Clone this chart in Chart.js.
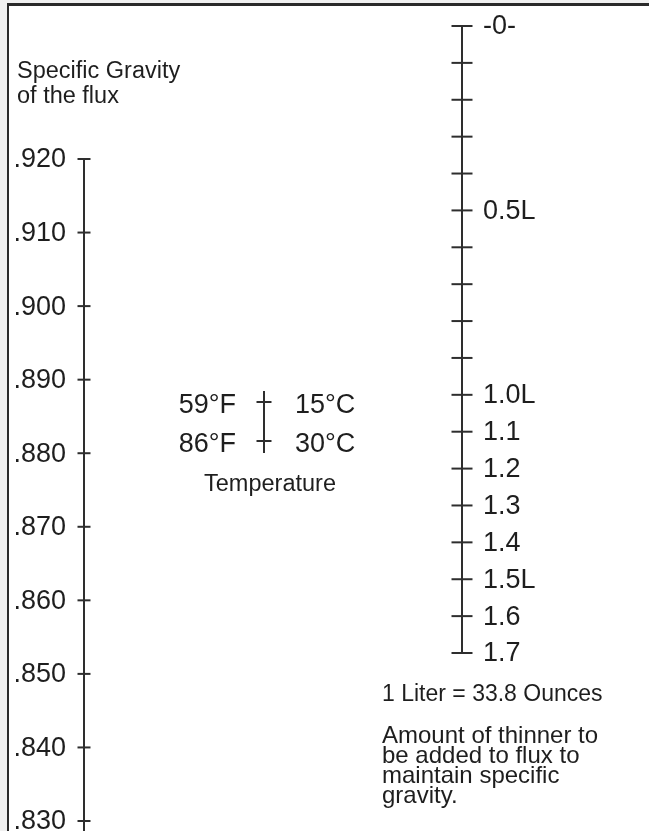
<!DOCTYPE html>
<html>
<head>
<meta charset="utf-8">
<script src="https://cdn.jsdelivr.net/npm/chart.js@4.4.0/dist/chart.umd.min.js"></script>
<style>
  html, body { margin: 0; padding: 0; background: #f0f0f0; }
  #wrap { position: relative; width: 649px; height: 831px; }
</style>
</head>
<body>
<div id="wrap"><canvas id="nomo"></canvas></div>
<script>
// Specific gravity of the flux (left scale)
var gravityValues = [0.920, 0.910, 0.900, 0.890, 0.880, 0.870, 0.860, 0.850, 0.840, 0.830];
var gravityLabels = ['.920', '.910', '.900', '.890', '.880', '.870', '.860', '.850', '.840', '.830'];

// Temperature (middle scale)
var tempCelsius = [15, 30];
var celsiusLabels = ['15°C', '30°C'];
var fahrenheitLabels = ['59°F', '86°F'];

// Amount of thinner in liters (right scale)
var thinnerValues = [0, 0.1, 0.2, 0.3, 0.4, 0.5, 0.6, 0.7, 0.8, 0.9, 1.0, 1.1, 1.2, 1.3, 1.4, 1.5, 1.6, 1.7];
var thinnerLabels = ['-0-', '', '', '', '', '0.5L', '', '', '', '', '1.0L', '1.1', '1.2', '1.3', '1.4', '1.5L', '1.6', '1.7'];

// layout of the page
var W = 649, H = 831;
var INK = '#1e1e1e';
var LINE = '#2e2e2e';
var FONT = '"Liberation Sans", Arial, sans-serif';

// where each scale sits across the page and where its end ticks fall
function fitRange(v1, p1, v2, p2) {
    var k = (v2 - v1) / (p2 - p1);
    return { top: v1 - p1 * k, bottom: v1 + (H - p1) * k };
}
var gRange = fitRange(0.920, 159, 0.830, 821);
var tRange = fitRange(15, 402, 30, 441);
var lRange = fitRange(0, 26, 1.7, 653);

function column(xPos, values) {
    return values.map(function (v) { return { x: xPos, y: v }; });
}

function tickSet(label, xPos, values, axis, half, extend) {
    return {
        label: label,
        data: column(xPos, values),
        yAxisID: axis,
        showLine: false,
        pointStyle: 'line',
        pointRadius: half,
        pointHoverRadius: half,
        pointBorderWidth: 2,
        pointBorderColor: LINE,
        borderColor: LINE,
        axisExtend: extend
    };
}

// page frame
var framePlugin = {
    id: 'frame',
    beforeDraw: function (chart) {
        var ctx = chart.ctx;
        ctx.save();
        ctx.fillStyle = '#f0f0f0';
        ctx.fillRect(0, 0, W, H);
        ctx.fillStyle = '#ffffff';
        ctx.fillRect(9, 6, W - 9, H - 6);
        ctx.fillStyle = '#2a2a2a';
        ctx.fillRect(7, 3, 2, H - 3);
        ctx.fillRect(7, 3, W - 7, 3);
        ctx.restore();
    }
};

// vertical lines of each scale, drawn through the tick points
var axisLinePlugin = {
    id: 'axisLines',
    beforeDatasetsDraw: function (chart) {
        var ctx = chart.ctx;
        ctx.save();
        ctx.strokeStyle = LINE;
        ctx.lineWidth = 2;
        chart.data.datasets.forEach(function (ds, i) {
            var pts = chart.getDatasetMeta(i).data;
            var first = pts[0], last = pts[pts.length - 1];
            var yEnd = ds.axisExtend[1] === 'bottom' ? chart.chartArea.bottom : last.y + ds.axisExtend[1];
            ctx.beginPath();
            ctx.moveTo(first.x, first.y - ds.axisExtend[0]);
            ctx.lineTo(first.x, yEnd);
            ctx.stroke();
        });
        ctx.restore();
    }
};

// tick labels and notes
var textPlugin = {
    id: 'texts',
    afterDatasetsDraw: function (chart) {
        var ctx = chart.ctx;
        ctx.save();
        ctx.fillStyle = INK;
        ctx.textBaseline = 'middle';
        ctx.font = '27px ' + FONT;

        var g = chart.getDatasetMeta(0).data;
        ctx.textAlign = 'right';
        g.forEach(function (p, i) { ctx.fillText(gravityLabels[i], p.x - 18, p.y + 1); });

        var t = chart.getDatasetMeta(1).data;
        t.forEach(function (p, i) {
            ctx.textAlign = 'right';
            ctx.fillText(fahrenheitLabels[i], p.x - 28, p.y + 4);
            ctx.textAlign = 'left';
            ctx.fillText(celsiusLabels[i], p.x + 31, p.y + 4);
        });

        var l = chart.getDatasetMeta(2).data;
        ctx.textAlign = 'left';
        l.forEach(function (p, i) {
            if (thinnerLabels[i]) ctx.fillText(thinnerLabels[i], p.x + 21, p.y + 1);
        });

        ctx.textBaseline = 'alphabetic';
        ctx.font = '23.5px ' + FONT;
        ctx.fillText('Specific Gravity', 17, 78);
        ctx.fillText('of the flux', 17, 103);

        ctx.textAlign = 'center';
        ctx.fillText('Temperature', t[0].x + 6, 491);

        ctx.textAlign = 'left';
        ctx.font = '23px ' + FONT;
        ctx.fillText('1 Liter = 33.8 Ounces', 382, 701);
        ctx.font = '24px ' + FONT;
        ['Amount of thinner to', 'be added to flux to', 'maintain specific', 'gravity.'].forEach(function (s, i) {
            ctx.fillText(s, 382, 743 + i * 20);
        });
        ctx.restore();
    }
};

var ctx = document.getElementById('nomo').getContext('2d');
var nomo = new Chart(ctx, {
    type: 'scatter',
    data: {
        datasets: [
            tickSet('Specific Gravity', 84, gravityValues, 'yG', 6.5, [0, 'bottom']),
            tickSet('Temperature', 264, tempCelsius, 'yT', 7.5, [11, 12]),
            tickSet('Thinner', 462, thinnerValues, 'yL', 10.5, [0, 0])
        ]
    },
    options: {
        responsive: true,
        maintainAspectRatio: false,
        animation: false,
        layout: { padding: 0, autoPadding: false },
        plugins: { legend: { display: false }, tooltip: { enabled: false } },
        scales: {
            x: { type: 'linear', display: false, min: 0, max: W },
            yG: { type: 'linear', display: false, min: gRange.bottom, max: gRange.top },
            yT: { type: 'linear', display: false, reverse: true, min: tRange.top, max: tRange.bottom },
            yL: { type: 'linear', display: false, reverse: true, min: lRange.top, max: lRange.bottom }
        }
    },
    plugins: [framePlugin, axisLinePlugin, textPlugin]
});
</script>
</body>
</html>
